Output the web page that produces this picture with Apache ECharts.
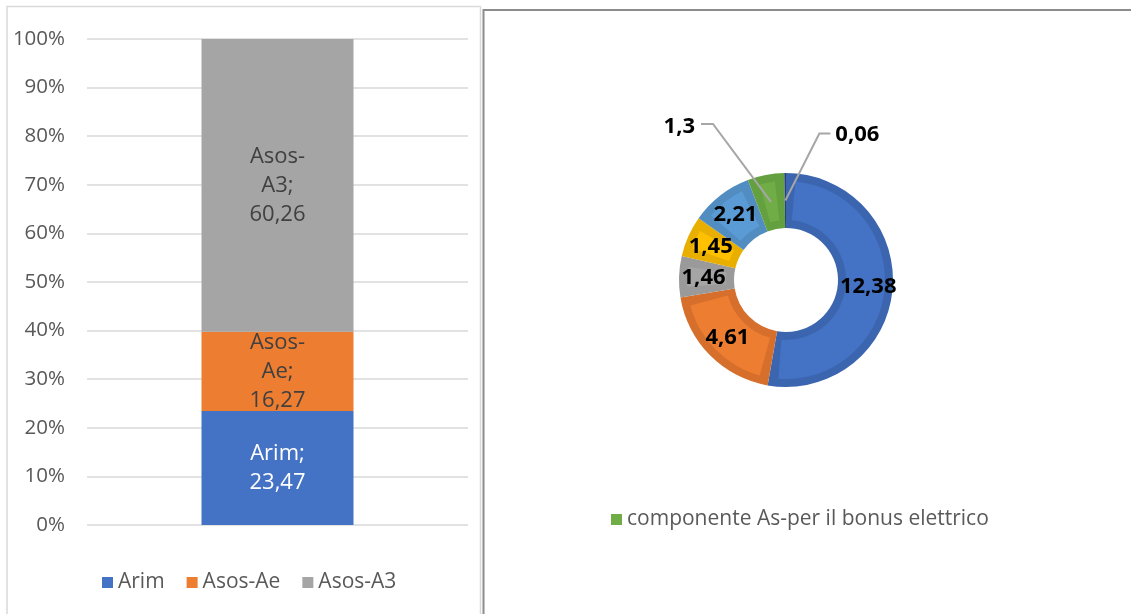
<!DOCTYPE html>
<html>
<head>
<meta charset="utf-8">
<script src="https://cdn.jsdelivr.net/npm/echarts@6/dist/echarts.min.js"></script>
<style>
  html, body { margin: 0; padding: 0; background: #ffffff; }
  #chart { width: 1131px; height: 614px; }
</style>
</head>
<body>
<div id="chart"></div>
<script>
// Stacked 100% column: composition of the general system charges
const stackCategory = ['Oneri generali'];
const stackNames = ['Arim', 'Asos-Ae', 'Asos-A3'];
const stackValues = [23.47, 16.27, 60.26];

// Doughnut: breakdown of the Arim share
const arimNames = [
  'componente A2',
  'componente A4',
  'componente A5',
  'componente UC4',
  'componente UC7',
  'componente As-per il bonus elettrico',
  'componente MCT'
];
const arimValues = [12.38, 4.61, 1.46, 1.45, 2.21, 1.3, 0.06];
const pieLegendNames = ['componente As-per il bonus elettrico'];

const FONT = '"Open Sans", "Noto Sans", sans-serif';
const stackColors = ['#4472C4', '#ED7D31', '#A5A5A5'];
const stackLabelColors = ['#ffffff', '#404040', '#404040'];
const pieColors = ['#4472C4', '#ED7D31', '#A5A5A5', '#FFC000', '#5B9BD5', '#70AD47', '#264478'];
const pieRimColors = ['#3C65AF', '#D66F2B', '#9A9A9A', '#E8AF00', '#528DC2', '#64A03F', '#264478'];

// doughnut geometry (px)
const CX = 786, CY = 280, R_IN = 52, R_OUT = 107, RIM = 8, PAD = 11;
const total = arimValues.reduce((a, b) => a + b, 0);

const fmt = v => String(v).replace('.', ',');

// leader lines for the two small slices start at the slice centroid
function leaderLayout(params) {
  const i = params.dataIndex;
  if (i !== 5 && i !== 6) return {};
  let before = 0;
  for (let k = 0; k < i; k++) before += arimValues[k];
  const mid = (before + arimValues[i] / 2) / total * Math.PI * 2;
  const r = (R_IN + R_OUT) / 2;
  const px = CX + r * Math.sin(mid);
  const py = CY - r * Math.cos(mid);
  if (i === 5) {
    const elbow = [px - 58, py - 78];
    const end = [elbow[0] - 12, elbow[1]];
    return {
      x: end[0] - 6, y: end[1] + 3,
      align: 'right', verticalAlign: 'middle',
      labelLinePoints: [[px, py], elbow, end]
    };
  }
  const elbow = [px + 34, py - 67];
  const end = [elbow[0] + 11, elbow[1]];
  return {
    x: end[0] + 5, y: end[1] + 1,
    align: 'left', verticalAlign: 'middle',
    labelLinePoints: [[px, py], elbow, end]
  };
}

const barSeries = stackNames.map((name, i) => ({
  name: name,
  type: 'bar',
  stack: 'total',
  barWidth: 152,
  data: [stackValues[i]],
  itemStyle: { color: stackColors[i] },
  label: {
    show: true,
    position: 'inside',
    fontFamily: FONT,
    fontSize: 22,
    lineHeight: 29,
    color: stackLabelColors[i],
    formatter: p => p.seriesName.replace('-', '-\n') + ';\n' + fmt(p.value)
  },
  emphasis: { disabled: true },
  silent: true
}));

const pieData = arimNames.map((n, i) => ({ name: n, value: arimValues[i] }));

// the lighter inset face is only drawn on slices wider than the padding;
// the trailing hairline slice keeps just its rim
const faceCount = arimValues.length - 1;
const faceSum = arimValues.slice(0, faceCount).reduce((a, b) => a + b, 0);
const faceEndAngle = 90 - 360 * faceSum / total;

const option = {
  backgroundColor: '#ffffff',
  animation: false,
  textStyle: { fontFamily: FONT },
  grid: { left: 87, right: 663, top: 39, bottom: 89 },
  xAxis: {
    type: 'category',
    data: stackCategory,
    axisLine: { show: false },
    axisTick: { show: false },
    axisLabel: { show: false }
  },
  yAxis: {
    type: 'value',
    min: 0,
    max: 100,
    interval: 10,
    axisLine: { show: false },
    axisTick: { show: false },
    axisLabel: {
      formatter: '{value}%',
      color: '#595959',
      fontFamily: FONT,
      fontSize: 20.5,
      margin: 22
    },
    splitLine: { lineStyle: { color: '#d9d9d9', width: 1.5 } }
  },
  legend: [
    {
      data: stackNames,
      left: 97,
      top: 567,
      itemWidth: 11,
      itemHeight: 11,
      itemGap: 22,
      icon: 'rect',
      textStyle: { color: '#595959', fontFamily: FONT, fontSize: 21 },
      selectedMode: false
    },
    {
      data: pieLegendNames.map(n => ({ name: n, itemStyle: { color: pieColors[5] } })),
      left: 606,
      top: 504,
      itemWidth: 11,
      itemHeight: 11,
      icon: 'rect',
      textStyle: { color: '#595959', fontFamily: FONT, fontSize: 21 },
      selectedMode: false
    }
  ],
  series: [
    ...barSeries,
    {
      // darker rim of each slice
      name: 'rim',
      type: 'pie',
      center: [CX, CY],
      radius: [R_IN, R_OUT],
      startAngle: 90,
      clockwise: true,
      silent: true,
      z: 2,
      data: pieData.map((d, i) => ({ ...d, itemStyle: { color: pieRimColors[i] } })),
      label: { show: false },
      labelLine: { show: false }
    },
    {
      // lighter face of each slice, inset from the rim
      name: 'face',
      type: 'pie',
      center: [CX, CY],
      radius: [R_IN + RIM, R_OUT - RIM],
      startAngle: 90,
      endAngle: faceEndAngle,
      clockwise: true,
      padAngle: PAD,
      silent: true,
      z: 3,
      data: pieData.slice(0, faceCount).map((d, i) => ({ ...d, itemStyle: { color: pieColors[i] } })),
      label: { show: false },
      labelLine: { show: false }
    },
    {
      // value labels
      name: 'Arim',
      type: 'pie',
      center: [CX, CY],
      radius: [R_IN, R_OUT],
      startAngle: 90,
      clockwise: true,
      silent: true,
      z: 4,
      avoidLabelOverlap: false,
      itemStyle: { color: 'rgba(0,0,0,0)' },
      data: pieData.map((d, i) => (i === 5 || i === 6)
        ? { ...d, label: { position: 'outside' }, labelLine: { show: true } }
        : d),
      label: {
        show: true,
        position: 'inside',
        color: '#000000',
        fontFamily: FONT,
        fontSize: 22,
        fontWeight: 'bold',
        formatter: p => fmt(p.value)
      },
      labelLine: {
        show: false,
        lineStyle: { color: '#a6a6a6', width: 2 }
      },
      labelLayout: leaderLayout
    }
  ],
  graphic: [
    {
      type: 'rect',
      silent: true,
      shape: { x: 7, y: 6.5, width: 473.5, height: 620 },
      style: { fill: 'none', stroke: '#d9d9d9', lineWidth: 1.5 }
    },
    {
      type: 'polyline',
      silent: true,
      shape: { points: [[1131, 10], [483.5, 10], [483.5, 614]] },
      style: { fill: 'none', stroke: '#8c8c8c', lineWidth: 2 }
    }
  ]
};

const chart = echarts.init(document.getElementById('chart'), null, { renderer: 'canvas' });
chart.setOption(option);
</script>
</body>
</html>
